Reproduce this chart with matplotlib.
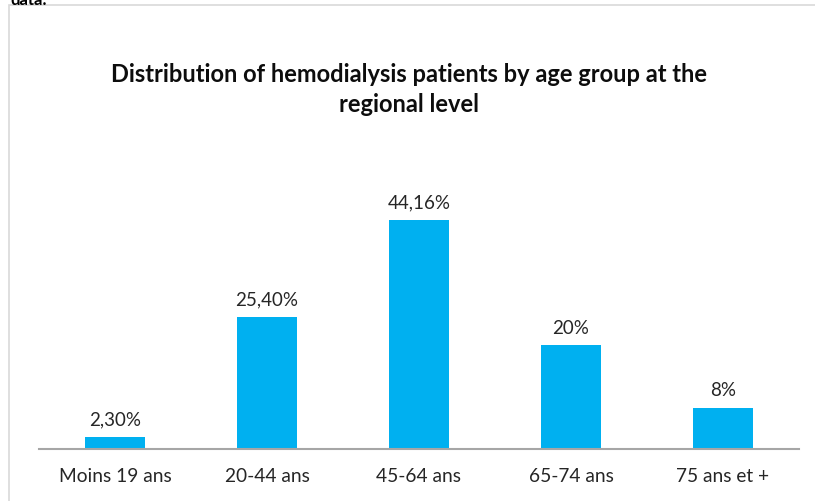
#!/usr/bin/env python3

import matplotlib
matplotlib.use("Agg")
import matplotlib.pyplot as plt
import matplotlib.patches as patches

# data
groups = ["Moins 19 ans", "20-44 ans", "45-64 ans", "65-74 ans", "75 ans et +"]
values = [2.30, 25.40, 44.16, 20, 8]
labels = ["2,30%", "25,40%", "44,16%", "20%", "8%"]

plt.rcParams['font.family'] = ['Lato', 'DejaVu Sans']

W, H = 815, 502
fig = plt.figure(figsize=(W / 100, H / 100), dpi=100)

# outer chart frame (light gray)
frame = patches.Rectangle((9 / W, -0.1), 1.2, 1.1 - 6 / H, transform=fig.transFigure,
                          fill=False, edgecolor='#d9d9d9', linewidth=1.2)
fig.patches.append(frame)

# cut-off text at the very top
fig.text(10 / W, 1.0, "data:", fontsize=12, fontweight='bold', va='center', ha='left')

ax = fig.add_axes([39 / W, 1 - 450 / H, 760 / W, 259 / H])
x = list(range(len(groups)))
ax.bar(x, values, width=0.39, color='#00b0f0')
ax.set_xlim(-0.5, 4.5)
ax.set_ylim(0, 50)

for i, v in enumerate(values):
    ax.text(i, v + 1.9, labels[i], ha='center', va='bottom', fontsize=13.5, color='#262626')

ax.set_xticks(x)
ax.set_xticklabels(groups, fontsize=13.8, color='#262626')
ax.tick_params(axis='x', length=0, pad=13)
ax.set_yticks([])
for s in ['top', 'right', 'left']:
    ax.spines[s].set_visible(False)
ax.spines['bottom'].set_color('#a6a6a6')
ax.spines['bottom'].set_linewidth(1.5)
ax.set_facecolor('none')

fig.text(409 / W, 1 - 75 / H, "Distribution of hemodialysis patients by age group at the",
         ha='center', va='center', fontsize=17, fontweight='bold', color='#0d0d0d')
fig.text(409 / W, 1 - 105 / H, "regional level",
         ha='center', va='center', fontsize=17, fontweight='bold', color='#0d0d0d')

fig.savefig("out.png", dpi=100)
